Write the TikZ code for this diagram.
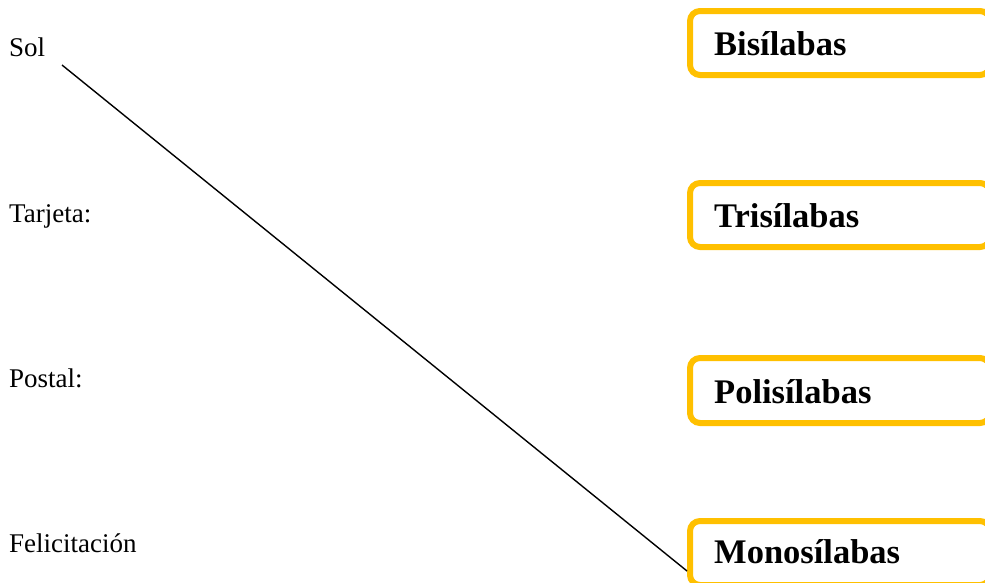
\documentclass[tikz,border=0pt]{standalone}
\usepackage{fontspec}
\setmainfont{Liberation Serif}
\definecolor{boxorange}{HTML}{FFC000}
\tikzset{
  catbox/.style={draw=boxorange, line width=6pt, rounded corners=10pt, minimum width=300pt, anchor=north west, inner sep=0pt, fill=white},
  cattext/.style={anchor=base west, inner sep=0pt, font=\fontsize{34.5}{40}\selectfont\bfseries},
  wordtext/.style={anchor=base west, inner sep=0pt, font=\fontsize{27}{32}\selectfont},
  matchline/.style={draw=black, line width=1.4pt}
}
\begin{document}
\begin{tikzpicture}[x=1pt,y=-1pt]
\useasboundingbox (0,0) rectangle (985,582);
\clip (0,0) rectangle (985,582);
% left words
\node[wordtext] (sol) at (9,56) {Sol};
\node[wordtext] (tarjeta) at (9,222) {Tarjeta:};
\node[wordtext] (postal) at (9,387) {Postal:};
\node[wordtext] (felic) at (9,552) {Felicitación};
% boxes
\node[catbox, minimum height=64pt] (b1) at (687,8) {};
\node[catbox, minimum height=64pt] (b2) at (687,180) {};
\node[catbox, minimum height=65pt] (b3) at (687,355) {};
\node[catbox, minimum height=64pt] (b4) at (687,518) {};
\node[cattext] (t1) at (714,55) {Bisílabas};
\node[cattext] (t2) at (714,227) {Trisílabas};
\node[cattext] (t3) at (714,403) {Polisílabas};
\node[cattext] (t4) at (714,563) {Monosílabas};
% connector
\coordinate (lstart) at (62,65);
\coordinate (lend) at (687,571);
\draw[matchline] (lstart) -- (lend);
\end{tikzpicture}
\end{document}
